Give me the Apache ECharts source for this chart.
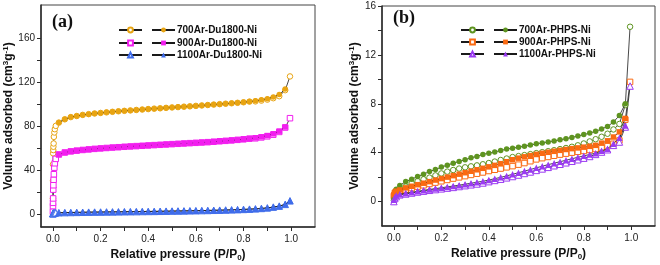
<!DOCTYPE html>
<html><head><meta charset="utf-8">
<script src="https://cdn.jsdelivr.net/npm/echarts@6/dist/echarts.min.js"></script>
<style>html,body{margin:0;padding:0;background:#fff}#c{width:660px;height:265px}</style>
</head><body><div id="c"></div>
<script>
// ---------- data ----------
var pMid = [0.025,0.05,0.075,0.1,0.125,0.15,0.175,0.2,0.225,0.25,0.275,0.3,0.325,0.35,0.375,0.4,0.425,0.45,0.475,0.5,0.525,0.55,0.575,0.6,0.625,0.65,0.675,0.7,0.725,0.75,0.775,0.8,0.825,0.85,0.875,0.9,0.925,0.95,0.975];
var pLowA = [0,0.0003,0.0006,0.001,0.0015,0.002,0.003,0.004,0.006,0.008,0.012];
var pLowB = [0,0.004,0.01];
var pTop = [0.995];

// panel (a)
var namesA = ['700Ar-Du1800-Ni','900Ar-Du1800-Ni','1100Ar-Du1800-Ni'];
var adsA700 = [83,86,88,89,90,90.7,91.3,91.8,92.3,92.8,93.3,93.7,94.1,94.5,94.9,95.3,95.7,96,96.4,96.8,97.1,97.5,97.8,98.2,98.6,99,99.4,99.8,100.2,100.6,101,101.5,102.1,102.8,103.7,104.8,106.3,108.5,113.5];
var desA700 = [14,30,45,55,58,61,64,70,74,77,80, 83,86,88,89,90,90.7,91.3,91.8,92.3,92.8,93.3,93.7,94.1,94.5,94.9,95.3,95.7,96,96.4,96.8,97.1,97.5,97.8,98.2,98.6,99,99.4,99.8,100.2,100.6,101,101.5,102.1,102.3,103,103.9,105.2,107,112.5, 125];
var adsA900 = [54,55.8,56.8,57.5,58.1,58.6,59.1,59.5,59.9,60.3,60.6,61,61.3,61.6,61.9,62.2,62.5,62.8,63.1,63.4,63.7,64,64.3,64.6,64.9,65.2,65.6,66,66.4,66.8,67.3,67.8,68.4,69.1,70,71.2,72.8,75.2,79];
var desA900 = [2,7,10,14,22,26,31,36,42,46,50, 54,55.8,56.8,57.5,58.1,58.6,59.1,59.5,59.9,60.3,60.6,61,61.3,61.6,61.9,62.2,62.5,62.8,63.1,63.4,63.7,64,64.3,64.6,64.9,65.2,65.6,66,66.4,66.8,67.3,67.8,68.4,68.7,69.5,70.5,72,74.5,78.5, 87];
var adsA1100 = [1.0,1.1,1.2,1.3,1.4,1.5,1.55,1.6,1.7,1.75,1.8,1.9,1.95,2.0,2.1,2.15,2.2,2.3,2.4,2.5,2.55,2.65,2.75,2.85,2.95,3.05,3.2,3.3,3.45,3.6,3.8,4.0,4.25,4.5,4.9,5.4,6.1,7.0,8.6, 11.8];
var desA1100 = [0,0.2,0.3,0.4,0.5,0.6,0.7,0.8,0.85,0.9,0.95, 1.0,1.1,1.2,1.3,1.4,1.5,1.55,1.6,1.7,1.75,1.8,1.9,1.95,2.0,2.1,2.15,2.2,2.3,2.4,2.5,2.55,2.65,2.75,2.85,2.95,3.05,3.2,3.3,3.45,3.6,3.8,4.0,4.25,4.5,4.9,5.4,6.1,7.0,8.6, 11.8];

// panel (b)
var namesB = ['700Ar-PHPS-Ni','900Ar-PHPS-Ni','1100Ar-PHPS-Ni'];
var adsB700 = [0.3,0.8,1.0, 1.31,1.64,1.83,2.05,2.24,2.46,2.62,2.82,2.98,3.14,3.28,3.42,3.58,3.69,3.86,3.96,4.05,4.18,4.29,4.37,4.45,4.53,4.62,4.72,4.8,4.88,4.96,5.05,5.14,5.25,5.36,5.48,5.6,5.75,5.93,6.15,6.5,7.05,8.0];
var desB700 = [0.1,0.6,0.85, 1.05,1.23,1.5,1.67,1.82,1.96,2.14,2.3,2.45,2.58,2.7,2.8,2.88,2.96,3.05,3.15,3.27,3.4,3.52,3.64,3.72,3.8,3.88,3.96,4.04,4.12,4.2,4.29,4.38,4.48,4.6,4.75,4.92,5.1,5.3,5.55,5.9,6.35,7.9, 14.3];
var adsB900 = [0.55,0.75,0.85, 0.95,1.12,1.25,1.38,1.5,1.63,1.76,1.88,2.0,2.12,2.24,2.36,2.48,2.6,2.72,2.84,2.96,3.1,3.26,3.42,3.55,3.66,3.76,3.86,3.95,4.03,4.11,4.19,4.26,4.33,4.39,4.45,4.52,4.6,4.78,4.97,5.28,5.7,6.8];
var desB900 = [0.45,0.7,0.8, 0.85,0.98,1.1,1.22,1.33,1.44,1.55,1.66,1.77,1.88,1.98,2.08,2.18,2.28,2.38,2.5,2.6,2.7,2.8,2.9,3.02,3.15,3.3,3.45,3.55,3.65,3.75,3.84,3.92,4.0,4.07,4.14,4.22,4.3,4.42,4.54,4.73,5.0,6.7, 9.79];
var adsB1100 = [0.15,0.35,0.5, 0.6,0.68,0.76,0.84,0.92,0.99,1.06,1.13,1.2,1.27,1.34,1.42,1.5,1.58,1.66,1.76,1.87,1.98,2.1,2.23,2.36,2.49,2.62,2.76,2.89,3.02,3.14,3.26,3.38,3.5,3.62,3.74,3.85,3.96,4.15,4.32,4.73,5.22,6.23];
var desB1100 = [0.0,0.25,0.4, 0.55,0.62,0.7,0.78,0.85,0.92,0.98,1.04,1.1,1.16,1.23,1.3,1.37,1.44,1.52,1.63,1.73,1.83,1.94,2.05,2.17,2.3,2.42,2.55,2.67,2.8,2.93,3.05,3.17,3.3,3.42,3.55,3.69,3.86,4.05,4.24,4.6,4.87,6.1, 9.45];

var xTicks = [0,0.1,0.2,0.3,0.4,0.5,0.6,0.7,0.8,0.9,1.0];
var xLabels = [0,0.2,0.4,0.6,0.8,1.0];
var yTicksA = [0,20,40,60,80,100,120,140,160];
var yLabelsA = [0,40,80,120,160];
var yTicksB = [0,2,4,6,8,10,12,14,16];
var yLabelsB = [0,4,8,12,16];

// ---------- styling ----------
var colA = ['#E8A412','#F21EEF','#3F6CEA'];
var colB = ['#5E9420','#FA6A12','#9B3BF2'];
var symbols = ['circle','rect','triangle'];
var sizes = [5.5,5.5,6.5];
var FONT = '"Liberation Sans", Arial, sans-serif';

function zip(xs, ys){ return xs.map(function(x,i){ return [x, ys[i]]; }); }

var chart = echarts.init(document.getElementById('c'), null, {renderer:'canvas'});

function mkSeries(name, data, idx, col, k, open){
  return {
    name: name, type:'line', xAxisIndex: idx, yAxisIndex: idx,
    data: data, symbol: symbols[k], symbolSize: sizes[k], showAllSymbol: true,
    animation:false, silent:true, z: open ? 2 : 3,
    lineStyle:{color:'#1a1a1a', width:0.8},
    itemStyle: open ? {color:'#ffffff', borderColor:col, borderWidth:1} : {color:col, borderColor:col, borderWidth:0},
    emphasis:{disabled:true}
  };
}

var series = [];
var adsA = [adsA700, adsA900, adsA1100], desA = [desA700, desA900, desA1100];
var adsB = [adsB700, adsB900, adsB1100], desB = [desB700, desB900, desB1100];
for (var k=0;k<3;k++){
  var xa = (k===2) ? pMid.concat(pTop) : pMid;
  series.push(mkSeries(namesA[k]+' des', zip(pLowA.concat(pMid).concat(pTop), desA[k]), 0, colA[k], k, true));
  series.push(mkSeries(namesA[k], zip(xa, adsA[k]), 0, colA[k], k, false));
  series.push(mkSeries(namesB[k]+' des', zip(pLowB.concat(pMid).concat(pTop), desB[k]), 1, colB[k], k, true));
  series.push(mkSeries(namesB[k], zip(pLowB.concat(pMid), adsB[k]), 1, colB[k], k, false));
}

function mkLegend(names, k, left, top){
  return {
    left: left, top: top, orient:'horizontal', padding:0, itemGap:8,
    itemWidth:23, itemHeight:6, selectedMode:false,
    data:[names[k]+' des', names[k]],
    formatter: function(n){ return /des$/.test(n) ? '' : n; },
    textStyle:{fontFamily:FONT, fontWeight:'bold', fontSize:10, color:'#111', padding:[0,0,0,-3]}
  };
}

var legends = [];
var topsA = [25,38,50], topsB = [25,37,49];
for (var k=0;k<3;k++){
  legends.push(mkLegend(namesA, k, 118, topsA[k]));
  legends.push(mkLegend(namesB, k, 460, topsB[k]));
}

function xAx(idx){
  return {
    gridIndex: idx, type:'value', min:-0.05, max:1.1,
    axisLine:{onZero:false, lineStyle:{color:'#2b2b2b', width:1.5}},
    axisTick:{show:true, inside:false, length:4, customValues:xTicks, lineStyle:{color:'#2b2b2b', width:1}},
    axisLabel:{customValues:xLabels, formatter:function(v){return v.toFixed(1);}, margin:7, fontFamily:FONT, fontSize:10, color:'#222'},
    splitLine:{show:false},
    name:'Relative pressure (P/P{sub|0})', nameLocation:'middle', nameGap:20,
    nameTextStyle:{fontFamily:FONT, fontWeight:'bold', fontSize:12, color:'#111',
      rich:{sub:{fontFamily:FONT, fontWeight:'bold', fontSize:8, color:'#111', verticalAlign:'bottom', padding:[6,0,0,0]}}}
  };
}
function yAx(idx, min, max, ticks, labels){
  return {
    gridIndex: idx, type:'value', min:min, max:max,
    axisLine:{onZero:false, lineStyle:{color:'#2b2b2b', width:1.5}},
    axisTick:{show:true, inside:false, length:4, customValues:ticks, lineStyle:{color:'#2b2b2b', width:1}},
    axisLabel:{customValues:labels, margin:6, fontFamily:FONT, fontSize:10, color:'#222'},
    splitLine:{show:false},
    name:'Volume adsorbed (cm{sup|3}g{sup|-1})', nameLocation:'middle', nameGap: idx===0 ? 19 : 14,
    nameTextStyle:{fontFamily:FONT, fontWeight:'bold', fontSize:12, color:'#111',
      rich:{sup:{fontFamily:FONT, fontWeight:'bold', fontSize:8, color:'#111', verticalAlign:'top', padding:[0,0,6,0]}}}
  };
}

chart.setOption({
  backgroundColor:'#fff',
  animation:false,
  title:[
    {text:'(a)', left:52, top:13, padding:0, textStyle:{fontFamily:'"Liberation Serif", "Times New Roman", serif', fontWeight:'bold', fontSize:18, color:'#111'}},
    {text:'(b)', left:393, top:9, padding:0, textStyle:{fontFamily:'"Liberation Serif", "Times New Roman", serif', fontWeight:'bold', fontSize:18, color:'#111'}}
  ],
  legend: legends,
  grid:[
    {left:41, top:5, width:274, height:222, show:true, borderColor:'#444', borderWidth:1, backgroundColor:'transparent', outerBoundsMode:'none', containLabel:false},
    {left:382, top:6, width:273, height:220, show:true, borderColor:'#444', borderWidth:1, backgroundColor:'transparent', outerBoundsMode:'none', containLabel:false}
  ],
  xAxis:[xAx(0), xAx(1)],
  yAxis:[yAx(0,-12,190,yTicksA,yLabelsA), yAx(1,-2,16,yTicksB,yLabelsB)],
  series: series
});
</script>
</body></html>
